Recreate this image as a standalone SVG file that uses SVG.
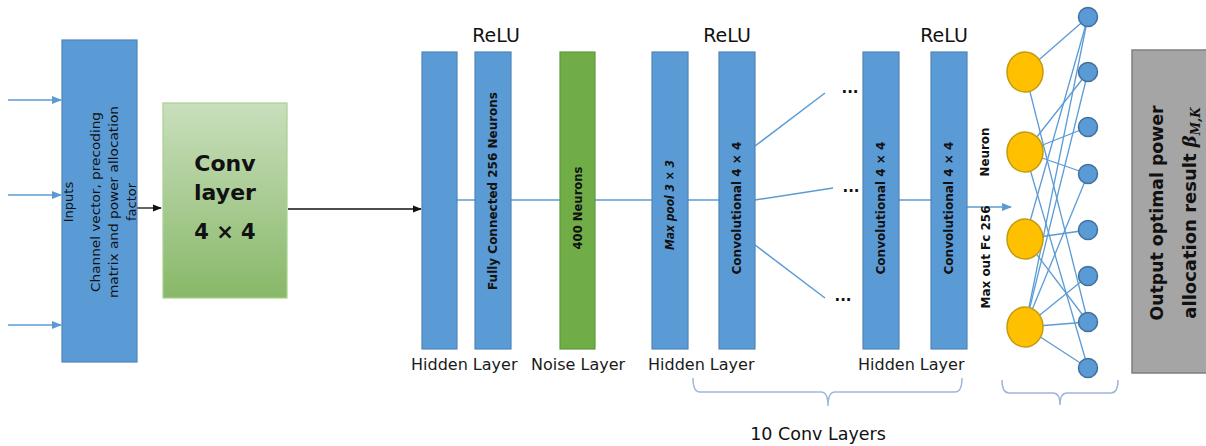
<svg xmlns="http://www.w3.org/2000/svg" width="1206" height="446" viewBox="0 0 1206 446">
<style>
.blk{fill:#5b9bd5;stroke:#4f86b8;stroke-width:1.2}
.t{font-family:"DejaVu Sans",Verdana,sans-serif;fill:#111}
.rot{font-family:"DejaVu Sans",Verdana,sans-serif;font-weight:bold;fill:#111;text-anchor:middle}
.lbl{font-family:"DejaVu Sans",Verdana,sans-serif;font-size:16px;fill:#1a1a1a}
.relu{font-family:"DejaVu Sans",Verdana,sans-serif;font-size:19px;fill:#111;text-anchor:middle}
.cn{stroke:#5b9bd5;stroke-width:1.5;fill:none}
.nn{stroke:#5b9bd5;stroke-width:1.3;fill:none}
.br{stroke:#9fb6dc;stroke-width:1.5;fill:none}
.y{fill:#ffc000;stroke:#c49a10;stroke-width:1.5}
.b{fill:#5b9bd5;stroke:#41719c;stroke-width:1.5}
</style>
<defs>
<marker id="ab" viewBox="0 0 10 10" refX="9" refY="5" markerWidth="7" markerHeight="7" orient="auto"><path d="M0,1 L10,5 L0,9 z" fill="#5b9bd5"/></marker>
<marker id="ak" viewBox="0 0 10 10" refX="9" refY="5" markerWidth="7" markerHeight="7" orient="auto"><path d="M0,1 L10,5 L0,9 z" fill="#111"/></marker>
<linearGradient id="gg" x1="0" y1="0" x2="0" y2="1"><stop offset="0" stop-color="#c9dfbd"/><stop offset="1" stop-color="#88b868"/></linearGradient>
</defs>

<g id="connectors">
<line class="cn" x1="8" y1="100" x2="61" y2="100" marker-end="url(#ab)"/>
<line class="cn" x1="8" y1="195" x2="61" y2="195" marker-end="url(#ab)"/>
<line class="cn" x1="8" y1="325" x2="61" y2="325" marker-end="url(#ab)"/>
<line x1="137" y1="208" x2="161" y2="208" stroke="#111" stroke-width="1.3" marker-end="url(#ak)"/>
<line x1="288" y1="209" x2="421" y2="209" stroke="#111" stroke-width="1.3" marker-end="url(#ak)"/>
<line class="cn" x1="457" y1="200" x2="475" y2="200"/>
<line class="cn" x1="511" y1="200" x2="560" y2="200"/>
<line class="cn" x1="595" y1="200" x2="652" y2="200"/>
<line class="cn" x1="688" y1="200" x2="719" y2="200"/>
<line class="cn" x1="755" y1="146" x2="825" y2="93"/>
<line class="cn" x1="755" y1="200" x2="833" y2="188"/>
<line class="cn" x1="755" y1="245" x2="825" y2="298"/>
<line class="cn" x1="899" y1="200" x2="931" y2="200"/>
<line class="cn" x1="967" y1="207" x2="1011" y2="207" marker-end="url(#ab)"/>
<g id="nn-edges">
<line class="nn" x1="1025" y1="72" x2="1088" y2="17"/>
<line class="nn" x1="1025" y1="72" x2="1088" y2="322"/>
<line class="nn" x1="1025" y1="152" x2="1088" y2="72"/>
<line class="nn" x1="1025" y1="152" x2="1088" y2="127"/>
<line class="nn" x1="1025" y1="152" x2="1088" y2="174"/>
<line class="nn" x1="1025" y1="152" x2="1088" y2="368"/>
<line class="nn" x1="1025" y1="239" x2="1088" y2="17"/>
<line class="nn" x1="1025" y1="239" x2="1088" y2="230"/>
<line class="nn" x1="1025" y1="239" x2="1088" y2="322"/>
<line class="nn" x1="1025" y1="327" x2="1088" y2="17"/>
<line class="nn" x1="1025" y1="327" x2="1088" y2="72"/>
<line class="nn" x1="1025" y1="327" x2="1088" y2="174"/>
<line class="nn" x1="1025" y1="327" x2="1088" y2="276"/>
<line class="nn" x1="1025" y1="327" x2="1088" y2="322"/>
<line class="nn" x1="1025" y1="327" x2="1088" y2="368"/>
</g>
<path class="br" d="M693,378 Q693,392 700,392 L821,392 Q828,392 828,406 Q828,392 835,392 L955,392 Q962,392 962,378"/>
<path class="br" d="M1002,380 Q1002,393 1009,393 L1053,393 Q1060,393 1060,405 Q1060,393 1067,393 L1111,393 Q1118,393 1118,380"/>
</g>

<g id="inputs">
<rect class="blk" x="62" y="40" width="75" height="322"/>
<g transform="translate(100,202) rotate(-90)">
<text class="t" x="0" y="-27" font-size="13" text-anchor="middle">Inputs</text>
<text class="t" x="0" y="0" font-size="13" text-anchor="middle" textLength="180" lengthAdjust="spacingAndGlyphs">Channel vector, precoding</text>
<text class="t" x="0" y="18" font-size="13" text-anchor="middle" textLength="192" lengthAdjust="spacingAndGlyphs">matrix and power allocation</text>
<text class="t" x="0" y="36" font-size="13" text-anchor="middle">factor</text>
</g>
</g>

<g id="conv-layer">
<rect x="163" y="103" width="124" height="195" fill="url(#gg)" stroke="#a9d18e" stroke-width="1.2"/>
<text class="t" x="225" y="171" font-size="22" font-weight="bold" text-anchor="middle">Conv</text>
<text class="t" x="225" y="200" font-size="22" font-weight="bold" text-anchor="middle">layer</text>
<text class="t" x="225" y="239" font-size="21" font-weight="bold" text-anchor="middle">4 × 4</text>
</g>

<g id="hidden1">
<rect class="blk" x="422" y="52" width="35" height="297"/>
</g>
<g id="fc256">
<rect class="blk" x="475" y="52" width="36" height="297"/>
<text class="rot" transform="translate(497,191) rotate(-90)" font-size="12.5" textLength="198" lengthAdjust="spacingAndGlyphs">Fully Connected 256 Neurons</text>
<text class="relu" x="496" y="42">ReLU</text>
</g>
<text class="lbl" x="411" y="370">Hidden Layer</text>

<g id="noise">
<rect x="560" y="52" width="35" height="297" fill="#70ad47" stroke="#5f9a3c" stroke-width="1.2"/>
<text class="rot" transform="translate(582,208) rotate(-90)" font-size="12.5" textLength="83" lengthAdjust="spacingAndGlyphs">400 Neurons</text>
<text class="lbl" x="531" y="370">Noise Layer</text>
</g>

<g id="maxpool">
<rect class="blk" x="652" y="52" width="36" height="297"/>
<text class="rot" transform="translate(674,205) rotate(-90)" font-size="12.5" font-style="italic" textLength="90" lengthAdjust="spacingAndGlyphs">Max pool 3 × 3</text>
</g>
<g id="conv1">
<rect class="blk" x="719" y="52" width="36" height="297"/>
<text class="rot" transform="translate(741,208) rotate(-90)" font-size="12.5" textLength="133" lengthAdjust="spacingAndGlyphs">Convolutional 4 × 4</text>
<text class="relu" x="727" y="42">ReLU</text>
</g>
<text class="lbl" x="648" y="370">Hidden Layer</text>

<g id="ellipses">
<text class="t" x="850" y="93" font-size="15" font-weight="bold" text-anchor="middle">...</text>
<text class="t" x="851" y="192" font-size="15" font-weight="bold" text-anchor="middle">...</text>
<text class="t" x="843" y="301" font-size="15" font-weight="bold" text-anchor="middle">...</text>
</g>

<g id="conv2">
<rect class="blk" x="863" y="52" width="36" height="297"/>
<text class="rot" transform="translate(885,208) rotate(-90)" font-size="12.5" textLength="133" lengthAdjust="spacingAndGlyphs">Convolutional 4 × 4</text>
</g>
<g id="conv3">
<rect class="blk" x="931" y="52" width="36" height="297"/>
<text class="rot" transform="translate(953,208) rotate(-90)" font-size="12.5" textLength="133" lengthAdjust="spacingAndGlyphs">Convolutional 4 × 4</text>
<text class="relu" x="944" y="42">ReLU</text>
</g>
<text class="lbl" x="858" y="370">Hidden Layer</text>
<text class="t" x="818" y="440" font-size="17.5" text-anchor="middle">10 Conv Layers</text>

<g id="maxout-labels">
<text class="rot" transform="translate(989,152) rotate(-90)" font-size="11.5" textLength="49" lengthAdjust="spacingAndGlyphs">Neuron</text>
<text class="rot" transform="translate(990,257) rotate(-90)" font-size="12" textLength="103" lengthAdjust="spacingAndGlyphs">Max out Fc 256</text>
</g>

<g id="neurons">
<ellipse class="y" cx="1025" cy="72" rx="18" ry="20"/>
<ellipse class="y" cx="1025" cy="152" rx="18" ry="20"/>
<ellipse class="y" cx="1025" cy="239" rx="18" ry="20"/>
<ellipse class="y" cx="1025" cy="327" rx="18" ry="20"/>
<circle class="b" cx="1088" cy="17" r="9.5"/>
<circle class="b" cx="1088" cy="72" r="9.5"/>
<circle class="b" cx="1088" cy="127" r="9.5"/>
<circle class="b" cx="1088" cy="174" r="9.5"/>
<circle class="b" cx="1088" cy="230" r="9.5"/>
<circle class="b" cx="1088" cy="276" r="9.5"/>
<circle class="b" cx="1088" cy="322" r="9.5"/>
<circle class="b" cx="1088" cy="368" r="9.5"/>
</g>

<g id="output">
<rect x="1132" y="50" width="78" height="323" fill="#a5a5a5" stroke="#7f7f7f" stroke-width="1.5"/>
<g transform="translate(1163,213) rotate(-90)">
<text class="t" x="0" y="0" font-size="18" font-weight="bold" text-anchor="middle" textLength="215" lengthAdjust="spacingAndGlyphs">Output optimal power</text>
<text class="t" x="0" y="33" font-size="18" font-weight="bold" text-anchor="middle">allocation result <tspan font-family="'DejaVu Serif',serif" font-style="italic">β</tspan><tspan font-family="'DejaVu Serif',serif" font-style="italic" font-size="12" dy="4">M,K</tspan></text>
</g>
</g>
</svg>
